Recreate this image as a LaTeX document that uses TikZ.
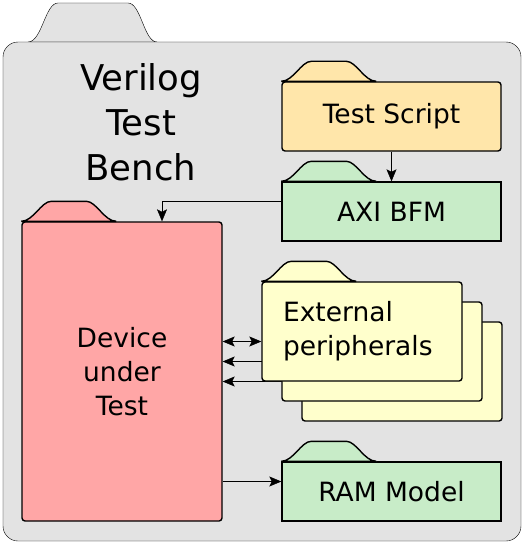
\documentclass[tikz,border=0pt]{standalone}
\usepackage{fontspec}
\setmainfont{DejaVu Sans}
\usetikzlibrary{arrows.meta}
\pgfdeclarelayer{wires}
\pgfsetlayers{wires,main}
\definecolor{benchgrey}{HTML}{E3E3E3}
\definecolor{dutred}{HTML}{FFA6A6}
\definecolor{scriptyellow}{HTML}{FFE6AA}
\definecolor{modelgreen}{HTML}{C8ECC8}
\definecolor{periphyellow}{HTML}{FFFFCC}
\begin{document}
\begin{tikzpicture}[x=1pt, y=-1pt, line width=1.4pt,
    >={Stealth[length=12pt, width=10pt, inset=2.5pt]},
    box/.style={draw, inner sep=0pt, align=center,
      font=\fontsize{26.5}{34}\selectfont},
    roundbox/.style={box, rounded corners=3pt}]
  \useasboundingbox (0, 0) rectangle (523, 543);
  % nodes
  \node[roundbox, fill=dutred, minimum width=200pt, minimum height=299pt]
    (dut) at (122, 371.5) {Device\\under\\Test};
  \node[roundbox, fill=scriptyellow, minimum width=219pt, minimum height=69pt]
    (script) at (391.5, 116.5) {Test Script};
  \node[box, fill=modelgreen, minimum width=219pt, minimum height=59pt]
    (bfm) at (391.5, 211.5) {AXI BFM};
  \node[roundbox, fill=periphyellow, minimum width=200pt, minimum height=99pt]
    (back) at (402, 371.5) {};
  \node[roundbox, fill=periphyellow, minimum width=200pt, minimum height=99pt]
    (mid) at (382, 351.5) {};
  \node[roundbox, fill=periphyellow, minimum width=200pt, minimum height=99pt,
    text width=158pt, inner xsep=21pt, align=left]
    (front) at (362, 331.5) {External\\peripherals};
  \node[box, fill=modelgreen, minimum width=219pt, minimum height=59pt]
    (ram) at (391.5, 491.5) {RAM Model};
  % tabs
  \foreach \n/\c in {dut/dutred, script/scriptyellow, bfm/modelgreen,
      front/periphyellow, ram/modelgreen}
    \draw[fill=\c] (\n.north west) .. controls +(12, 0) and +(-10, 0) .. ++(30, -20)
      -- ++(35, 0) .. controls +(10, 0) and +(-12, 0) .. ++(30, 20) -- cycle;
  \begin{pgfonlayer}{wires}
    % bench
    \draw[fill=benchgrey] (28, 42) .. controls (42, 42) and (45, 3) .. (58, 3)
      -- (128, 3) .. controls (141, 3) and (144, 42) .. (157, 42) -- cycle;
    \draw[fill=benchgrey, rounded corners=15pt] (3, 42) rectangle (521, 541);
    \node[align=center, font=\fontsize{35.5}{45}\selectfont] (title) at (141, 122)
      {Verilog\\Test\\Bench};
    % lines
    \draw[->] (script) -- (bfm);
    \draw[->] ([yshift=10pt]bfm.west) -| ([xshift=40pt]dut.north);
    \draw[<->] ([yshift=-10pt]front.west) -- ([yshift=-10pt]front.west -| dut.east);
    \draw[->] ([yshift=-10pt]mid.west) -- ([yshift=-10pt]mid.west -| dut.east);
    \draw[->] ([yshift=-10pt]back.west) -- ([yshift=-10pt]back.west -| dut.east);
    \draw[->] ([yshift=10pt]ram.west -| dut.east) -- ([yshift=10pt]ram.west);
  \end{pgfonlayer}
\end{tikzpicture}
\end{document}
